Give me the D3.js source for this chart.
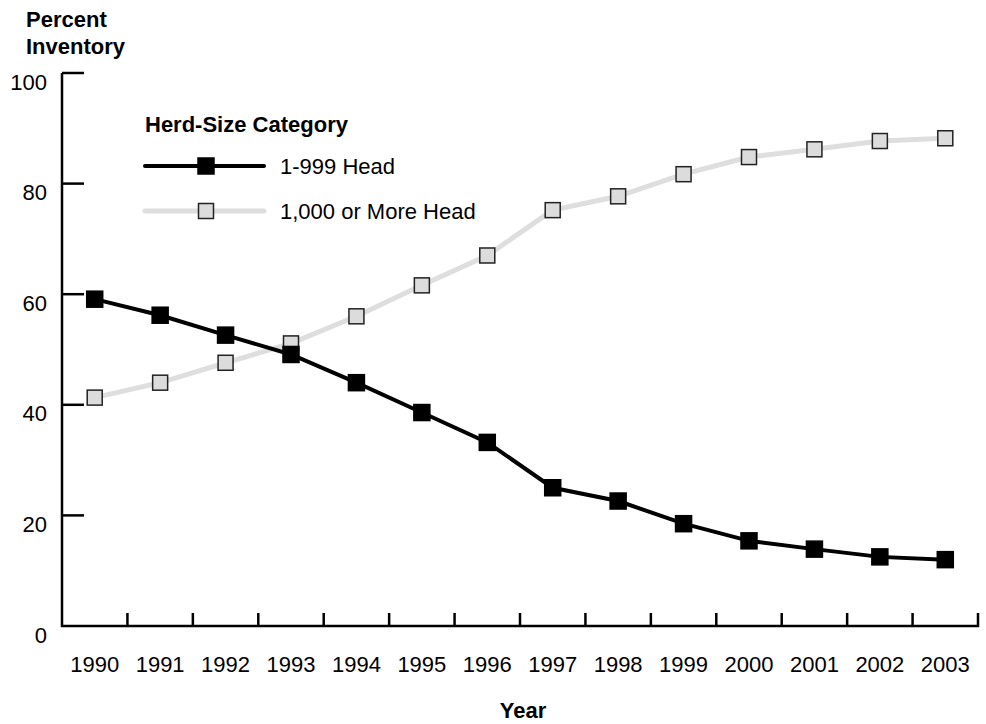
<!DOCTYPE html>
<html>
<head>
<meta charset="utf-8">
<script src="https://cdn.jsdelivr.net/npm/d3@7"></script>
<style>
  body { margin: 0; background: #fff; }
  text { font-family: "Liberation Sans", Arial, sans-serif; fill: #000; }
</style>
</head>
<body>
<svg width="986" height="724"></svg>
<script>
var years = ["1990","1991","1992","1993","1994","1995","1996","1997","1998","1999","2000","2001","2002","2003"];
var small = [59.1, 56.2, 52.6, 49.1, 44.0, 38.6, 33.2, 25.0, 22.6, 18.5, 15.4, 13.9, 12.5, 12.0];
var large = [41.3, 44.0, 47.6, 51.1, 56.0, 61.6, 67.0, 75.2, 77.7, 81.7, 84.8, 86.2, 87.7, 88.2];
var yTicks = [0, 20, 40, 60, 80, 100];
var seriesNames = ["1-999 Head", "1,000 or More Head"];

var svg = d3.select("svg");

var x = d3.scaleBand().domain(years).range([62, 978]).padding(0);
var y = d3.scaleLinear().domain([0, 100]).range([626, 73]);

// axis frame: left + bottom, short tick up at the right end
var ax = svg.append("g").attr("stroke", "#000").attr("stroke-width", 2.5).attr("fill", "none");
ax.append("path").attr("d", "M" + x.range()[0] + "," + y(100) + "V" + y(0) + "H" + x.range()[1] + "V" + (y(0) - 13));

// y ticks point inward
ax.selectAll(".yt").data(yTicks.filter(function(d) { return d > 0; })).enter()
  .append("line")
  .attr("x1", 62).attr("x2", 84)
  .attr("y1", function(d) { return y(d); })
  .attr("y2", function(d) { return y(d); });

// x ticks at band boundaries
ax.selectAll(".xt").data(years.slice(1)).enter()
  .append("line")
  .attr("x1", function(d) { return x(d); })
  .attr("x2", function(d) { return x(d); })
  .attr("y1", y(0)).attr("y2", y(0) - 13);

svg.selectAll(".ylab").data(yTicks).enter()
  .append("text")
  .attr("x", 47)
  .attr("y", function(d) { return y(d) + 9; })
  .attr("text-anchor", "end")
  .attr("dominant-baseline", "central")
  .style("font-size", "22px")
  .text(function(d) { return d; });

svg.selectAll(".xlab").data(years).enter()
  .append("text")
  .attr("x", function(d) { return x(d) + x.bandwidth() / 2; })
  .attr("y", 664)
  .attr("text-anchor", "middle")
  .attr("dominant-baseline", "central")
  .style("font-size", "22px")
  .text(function(d) { return d; });

svg.append("text").attr("x", 523).attr("y", 718)
  .attr("text-anchor", "middle")
  .style("font-size", "22px").style("font-weight", "bold").text("Year");

svg.append("text").attr("x", 26).attr("y", 27)
  .style("font-size", "22px").style("font-weight", "bold").text("Percent");
svg.append("text").attr("x", 26).attr("y", 54)
  .style("font-size", "22px").style("font-weight", "bold").text("Inventory");

var line = d3.line()
  .x(function(d, i) { return x(years[i]) + x.bandwidth() / 2; })
  .y(function(d) { return y(d); });

var styles = [
  { data: small, stroke: "#000", width: 4, fill: "#000", mstroke: "#000", size: 16 },
  { data: large, stroke: "#dedede", width: 5, fill: "#dcdcdc", mstroke: "#222", size: 15 }
];

// gray series first, black on top
[styles[1], styles[0]].forEach(function(s) {
  svg.append("path").datum(s.data)
    .attr("fill", "none").attr("stroke", s.stroke).attr("stroke-width", s.width)
    .attr("d", line);
  svg.selectAll(null).data(s.data).enter()
    .append("rect")
    .attr("x", function(d, i) { return x(years[i]) + x.bandwidth() / 2 - s.size / 2; })
    .attr("y", function(d) { return y(d) - s.size / 2; })
    .attr("width", s.size).attr("height", s.size)
    .attr("fill", s.fill).attr("stroke", s.mstroke).attr("stroke-width", 1.5);
});

// legend
var lg = svg.append("g");
lg.append("text").attr("x", 145).attr("y", 132)
  .style("font-size", "22px").style("font-weight", "bold").text("Herd-Size Category");
var rows = [166, 211];
styles.forEach(function(s, i) {
  lg.append("line").attr("x1", 145).attr("x2", 264).attr("y1", rows[i]).attr("y2", rows[i])
    .attr("stroke", s.stroke).attr("stroke-width", s.width).attr("stroke-linecap", "round");
  lg.append("rect").attr("x", 206 - s.size / 2).attr("y", rows[i] - s.size / 2)
    .attr("width", s.size).attr("height", s.size)
    .attr("fill", s.fill).attr("stroke", s.mstroke).attr("stroke-width", 1.5);
  lg.append("text").attr("x", 280).attr("y", rows[i]).attr("dominant-baseline", "central")
    .style("font-size", "22px").text(seriesNames[i]);
});
</script>
</body>
</html>
